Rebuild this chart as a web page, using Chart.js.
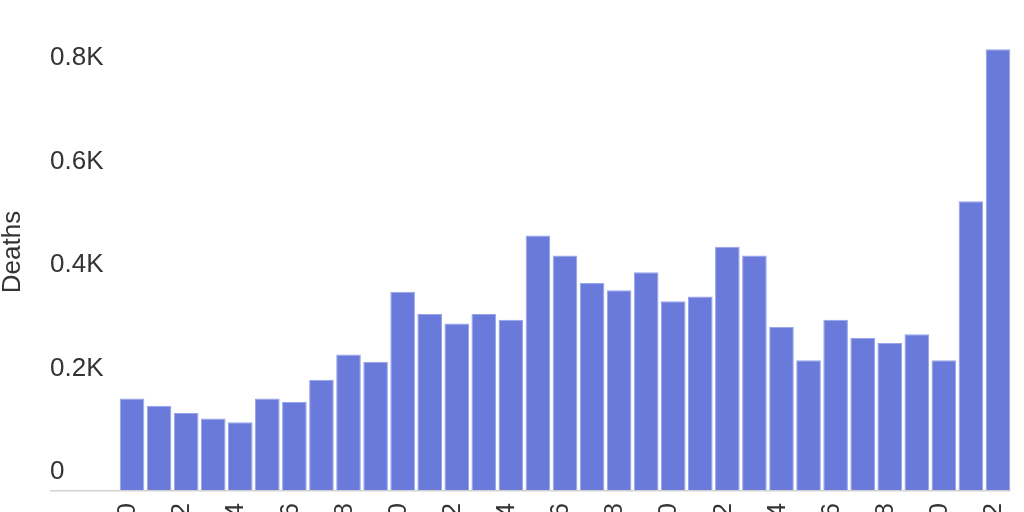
<!DOCTYPE html>
<html>
<head>
<meta charset="utf-8">
<script src="https://cdn.jsdelivr.net/npm/chart.js@4/dist/chart.umd.min.js"></script>
<style>
  html, body { margin: 0; padding: 0; background: #fff; overflow: hidden; }
  canvas { display: block; }
</style>
</head>
<body>
<canvas id="deathsChart" width="1024" height="512"></canvas>
<script>
// years on the x axis, every other one gets a label
const years = [
  '1990', '1991', '1992', '1993', '1994', '1995', '1996', '1997', '1998', '1999',
  '2000', '2001', '2002', '2003', '2004', '2005', '2006', '2007', '2008', '2009',
  '2010', '2011', '2012', '2013', '2014', '2015', '2016', '2017', '2018', '2019',
  '2020', '2021', '2022'
];
const deaths = [
  177, 163, 149, 138, 131, 177, 170, 213, 262, 248,
  383, 340, 322, 340, 329, 492, 453, 400, 386, 421,
  365, 374, 470, 453, 315, 251, 329, 294, 284, 301,
  251, 558, 852
];
const yTicks = [0, 200, 400, 600, 800];

const FONT = "'Liberation Sans', Arial, sans-serif";
const TEXT = '#333333';

// light baseline that runs under the tick labels as well
const baseline = {
    id: 'baseline',
    afterDatasetsDraw(chart) {
        const { ctx, chartArea, scales } = chart;
        const y = scales.y.getPixelForValue(0) + 0.75;
        ctx.save();
        ctx.strokeStyle = '#d2d2d2';
        ctx.lineWidth = 1.5;
        ctx.beginPath();
        ctx.moveTo(scales.y.left, y);
        ctx.lineTo(chartArea.right - 1, y);
        ctx.stroke();
        ctx.restore();
    }
};

const ctx = document.getElementById('deathsChart').getContext('2d');
new Chart(ctx, {
    type: 'bar',
    data: {
        labels: years,
        datasets: [{
            label: 'Deaths',
            data: deaths,
            backgroundColor: '#6a7adb',
            borderColor: '#97a3eb',
            borderWidth: 1,
            borderSkipped: 'bottom',
            barPercentage: 0.91,
            categoryPercentage: 1
        }]
    },
    plugins: [baseline],
    options: {
        responsive: false,
        animation: false,
        layout: { padding: { top: 14, right: 12.5, bottom: 0, left: 0 } },
        plugins: {
            legend: { display: false },
            tooltip: { enabled: false }
        },
        scales: {
            x: {
                grid: { display: false, drawTicks: false },
                border: { display: false },
                ticks: {
                    autoSkip: false,
                    minRotation: 90,
                    maxRotation: 90,
                    padding: 13,
                    labelOffset: -4,
                    color: TEXT,
                    font: { family: FONT, size: 26 },
                    callback: (value, i) => i % 2 === 0 ? years[i] : ''
                },
                afterFit: s => { s.height = 22; s.paddingLeft = 0; s.paddingRight = 0; }
            },
            y: {
                position: 'left',
                weight: 0,
                min: 0,
                max: 920,
                grid: { display: false, drawTicks: false },
                border: { display: false },
                afterBuildTicks: s => { s.ticks = yTicks.map(v => ({ value: v })); },
                ticks: {
                    crossAlign: 'far',
                    labelOffset: -18,
                    padding: 0,
                    color: TEXT,
                    font: { family: FONT, size: 26 },
                    callback: v => v === 0 ? '0' : (v / 1000) + 'K'
                },
                afterFit: s => { s.width = 68.5; s.paddingTop = 0; s.paddingBottom = 0; }
            },
            yTitle: {
                type: 'linear',
                position: 'left',
                weight: 1,
                min: 0,
                max: 1,
                grid: { display: false, drawTicks: false },
                border: { display: false },
                ticks: { display: false },
                title: {
                    display: true,
                    text: 'Deaths',
                    color: TEXT,
                    padding: 0,
                    font: { family: FONT, size: 26, lineHeight: 1 }
                },
                afterFit: s => { s.width = 50; s.paddingTop = 0; s.paddingBottom = 0; }
            }
        }
    }
});
</script>
</body>
</html>
